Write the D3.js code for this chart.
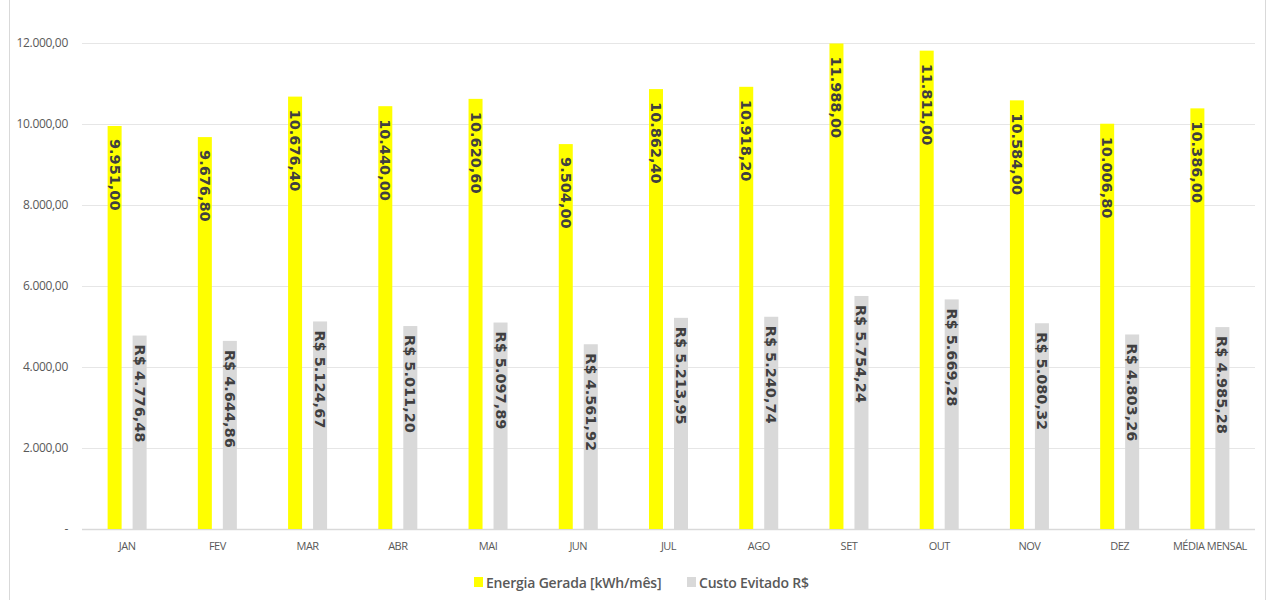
<!DOCTYPE html>
<html>
<head>
<meta charset="utf-8">
<script src="https://cdn.jsdelivr.net/npm/d3@7"></script>
<style>
  body { margin: 0; background: #fff; }
  #chart text { font-family: "Open Sans", sans-serif; }
</style>
</head>
<body>
<div id="chart"></div>
<script>
// meses + média
var categories = ['JAN', 'FEV', 'MAR', 'ABR', 'MAI', 'JUN', 'JUL', 'AGO', 'SET', 'OUT', 'NOV', 'DEZ', 'MÉDIA MENSAL'];
var energia = [9951.00, 9676.80, 10676.40, 10440.00, 10620.60, 9504.00, 10862.40, 10918.20, 11988.00, 11811.00, 10584.00, 10006.80, 10386.00];
var custo = [4776.48, 4644.86, 5124.67, 5011.20, 5097.89, 4561.92, 5213.95, 5240.74, 5754.24, 5669.28, 5080.32, 4803.26, 4985.28];
var yTicks = [0, 2000, 4000, 6000, 8000, 10000, 12000];
var seriesNames = ['Energia Gerada [kWh/mês]', 'Custo Evitado R$'];

var W = 1273, H = 600;
var margin = {top: 43, right: 18, bottom: 71, left: 82};
var width = W - margin.left - margin.right,
    height = H - margin.top - margin.bottom;

var br = d3.formatLocale({decimal: ",", thousands: ".", grouping: [3], currency: ["R$ ", ""]});
var fmt = br.format(",.2f");

var svg = d3.select("#chart").append("svg")
    .attr("width", W)
    .attr("height", H);

// moldura
svg.append("rect")
    .attr("x", 9.5).attr("y", -5)
    .attr("width", 1256).attr("height", 620)
    .attr("fill", "none")
    .attr("stroke", "#d9d9d9");

var g = svg.append("g")
    .attr("transform", "translate(" + margin.left + "," + margin.top + ")");

var x = d3.scaleBand()
    .domain(categories)
    .range([0, width]);

var y = d3.scaleLinear()
    .domain([0, 12000])
    .range([height, 0]);

// grid
g.append("g")
    .selectAll("line")
    .data(yTicks)
    .enter().append("line")
    .attr("x1", 0).attr("x2", width)
    .attr("y1", function(d) { return y(d) + 0.5; })
    .attr("y2", function(d) { return y(d) + 0.5; })
    .attr("stroke", function(d) { return d == 0 ? "#d9d9d9" : "#e6e6e6"; })
    .attr("stroke-width", function(d) { return d == 0 ? 1.5 : 1; });

// eixo y
var yAxis = g.append("g")
    .call(d3.axisLeft(y).tickValues(yTicks)
        .tickSize(0).tickPadding(14)
        .tickFormat(function(d) { return d == 0 ? "-      " : fmt(d); }));
yAxis.select(".domain").remove();
yAxis.selectAll("text")
    .attr("fill", "#595959")
    .style("font-size", "12px")
    .style("letter-spacing", "-0.3px");

// eixo x
var xAxis = g.append("g")
    .attr("transform", "translate(0," + height + ")")
    .call(d3.axisBottom(x).tickSize(0).tickPadding(13));
xAxis.select(".domain").remove();
xAxis.selectAll("text")
    .attr("fill", "#595959")
    .style("font-size", "11px")
    .style("letter-spacing", "-0.5px");

var rows = categories.map(function(c, i) { return {cat: c, e: energia[i], c: custo[i]}; });
var bw = 14;

var groups = g.append("g")
    .selectAll("g")
    .data(rows)
    .enter().append("g")
    .attr("transform", function(d) { return "translate(" + x(d.cat) + ",0)"; });

// barras energia
groups.append("rect")
    .attr("x", function() { return x.bandwidth() / 2 - 12.5 - bw / 2; })
    .attr("y", function(d) { return y(d.e); })
    .attr("width", bw)
    .attr("height", function(d) { return height - y(d.e); })
    .attr("fill", "#ffff00");

// barras custo
groups.append("rect")
    .attr("x", function() { return x.bandwidth() / 2 + 12.5 - bw / 2; })
    .attr("y", function(d) { return y(d.c); })
    .attr("width", bw)
    .attr("height", function(d) { return height - y(d.c); })
    .attr("fill", "#d9d9d9");

// rótulos (texto vertical)
groups.append("text")
    .attr("transform", function(d) {
        return "translate(" + (x.bandwidth() / 2 - 12.5) + "," + (y(d.e) + 13) + ") rotate(90)";
    })
    .attr("dominant-baseline", "central")
    .style("font-family", "'DejaVu Sans', sans-serif")
    .style("font-weight", "bold")
    .style("font-size", "14.5px")
    .attr("fill", "#404040")
    .text(function(d) { return fmt(d.e); });

groups.append("text")
    .attr("transform", function(d) {
        return "translate(" + (x.bandwidth() / 2 + 12.5) + "," + (y(d.c) + 9) + ") rotate(90)";
    })
    .attr("dominant-baseline", "central")
    .style("font-family", "'DejaVu Sans', sans-serif")
    .style("font-weight", "bold")
    .style("font-size", "14.5px")
    .attr("fill", "#404040")
    .text(function(d) { return "R$ " + fmt(d.c); });

// legenda
var legend = svg.append("g")
    .attr("transform", "translate(474,582)");
var legX = [0, 213];
var legColors = ["#ffff00", "#d9d9d9"];
seriesNames.forEach(function(name, i) {
    var lg = legend.append("g").attr("transform", "translate(" + legX[i] + ",0)");
    lg.append("rect")
        .attr("x", 0).attr("y", -5)
        .attr("width", 9).attr("height", 10)
        .attr("fill", legColors[i]);
    lg.append("text")
        .attr("x", 12)
        .attr("dominant-baseline", "central")
        .style("font-weight", "600")
        .style("font-size", "14px")
        .style("letter-spacing", "-0.2px")
        .attr("fill", "#595959")
        .text(name);
});
</script>
</body>
</html>
